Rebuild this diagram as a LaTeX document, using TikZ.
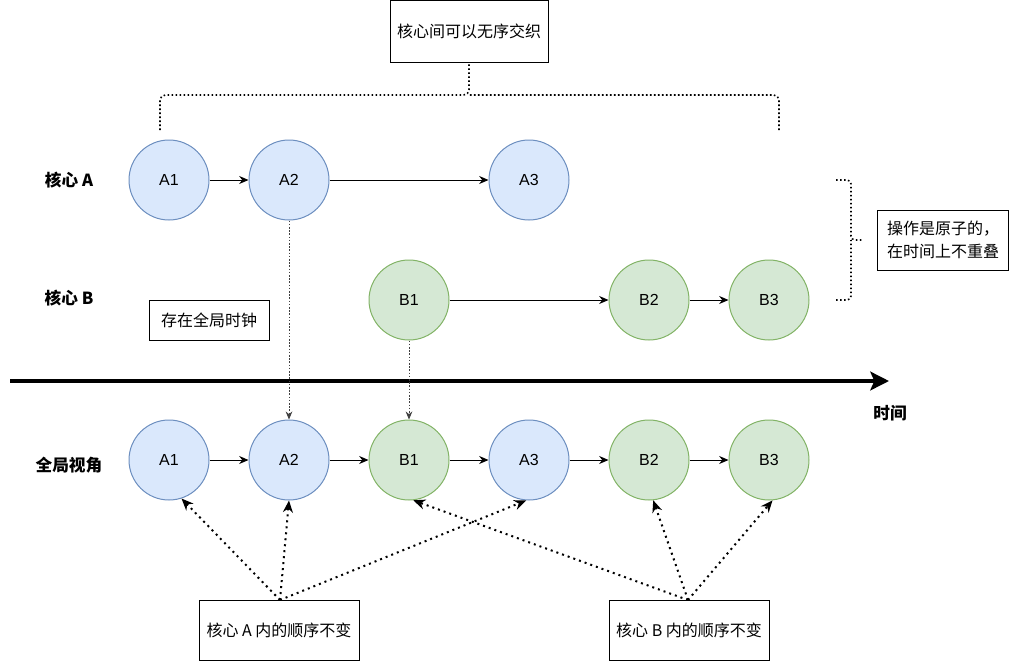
\documentclass[tikz,border=0pt]{standalone}
\usepackage{fontspec}
\setmainfont{Liberation Sans}
\newfontfamily\cjk{Noto Sans CJK SC}
\usetikzlibrary{arrows.meta}
\begin{document}
\begin{tikzpicture}[x=0.75pt,y=-0.75pt,
  every node/.style={font=\fontsize{12}{15}\selectfont},
  bcirc/.style={circle,draw=blue!40!gray,fill=blue!12,minimum size=60pt,inner sep=0pt,line width=0.75pt},
  gcirc/.style={circle,draw=green!50!gray,fill=green!12,minimum size=60pt,inner sep=0pt,line width=0.75pt},
  txtbox/.style={draw,line width=0.75pt,inner sep=0pt,font=\cjk\fontsize{12}{17}\selectfont,align=center},
  rowlbl/.style={font=\cjk\bfseries\fontsize{12.5}{15}\selectfont},
  seq/.style={-{Stealth[length=7pt,width=6pt]},line width=0.75pt},
  vdot/.style={-{Stealth[length=6pt,width=5pt]},line width=0.6pt,dash pattern=on 1.2pt off 1.2pt,draw=black!75},
  bdot/.style={-{Stealth[length=9pt,width=7.5pt]},line width=1.5pt,dash pattern=on 1.5pt off 3pt},
  brace/.style={line width=1.2pt,dash pattern=on 1.2pt off 1.8pt,rounded corners=4pt}
]
\definecolor{bfill}{HTML}{DAE8FC}\definecolor{bdraw}{HTML}{6C8EBF}
\definecolor{gfill}{HTML}{D5E8D4}\definecolor{gdraw}{HTML}{82B366}
\tikzset{bcirc/.append style={draw=bdraw,fill=bfill},gcirc/.append style={draw=gdraw,fill=gfill}}
\useasboundingbox (0,0) rectangle (1010,661);

% row labels
\node[rowlbl] (la) at (69,180) {核心 A};
\node[rowlbl] (lb) at (69,298) {核心 B};
\node[rowlbl] (lg) at (69,465) {全局视角};

% core A
\node[bcirc] (a1) at (169,180) {A1};
\node[bcirc] (a2) at (289,180) {A2};
\node[bcirc] (a3) at (529,180) {A3};
\draw[seq] (a1) -- (a2);
\draw[seq] (a2) -- (a3);

% core B
\node[gcirc] (b1) at (409,300) {B1};
\node[gcirc] (b2) at (649,300) {B2};
\node[gcirc] (b3) at (769,300) {B3};
\draw[seq] (b1) -- (b2);
\draw[seq] (b2) -- (b3);

% global clock box
\node[txtbox,minimum width=90pt,minimum height=30pt] (clk) at (209,320) {存在全局时钟};

% top box and brace
\node[txtbox,minimum width=118.5pt,minimum height=46.5pt] (tb) at (469,31) {核心间可以无序交织};
\coordinate (bl) at (160,130);
\coordinate (br) at (779,130);
\draw[brace] (bl) -- (160,95) -- (469,95) -- (tb.south);
\draw[brace] (br) -- (779,95) -- (469,95);

% right brace and box
\node[txtbox,minimum width=98pt,minimum height=45pt] (rb) at (943,240) {操作是原子的，\\在时间上不重叠};
\coordinate (rt) at (836,180);
\coordinate (rbm) at (836,300);
\draw[brace,rounded corners=3pt] (rt) -- (851,180) -- (851,240) -- (863,240);
\draw[brace,rounded corners=3pt] (rbm) -- (851,300) -- (851,240);

% timeline
\coordinate (t0) at (10,381);
\coordinate (t1) at (889,381);
\draw[line width=3pt,-{Stealth[length=14pt,width=14pt,inset=3pt]}] (t0) -- (t1);
\node[rowlbl] (tl) at (890,413) {时间};

% global row
\node[bcirc] (g1) at (169,460) {A1};
\node[bcirc] (g2) at (289,460) {A2};
\node[gcirc] (g3) at (409,460) {B1};
\node[bcirc] (g4) at (529,460) {A3};
\node[gcirc] (g5) at (649,460) {B2};
\node[gcirc] (g6) at (769,460) {B3};
\draw[seq] (g1) -- (g2);
\draw[seq] (g2) -- (g3);
\draw[seq] (g3) -- (g4);
\draw[seq] (g4) -- (g5);
\draw[seq] (g5) -- (g6);

% projection lines
\draw[vdot] (a2.south) -- (g2.north);
\draw[vdot] (b1.south) -- (g3.north);

% bottom boxes
\node[txtbox,minimum width=120pt,minimum height=45pt] (qa) at (279,630) {核心 A 内的顺序不变};
\node[txtbox,minimum width=120pt,minimum height=45pt] (qb) at (689,630) {核心 B 内的顺序不变};
\coordinate (qat) at (280,600);
\coordinate (qbt) at (688,600);
\draw[bdot] (qat) -- (g1.-72);
\draw[bdot] (qat) -- (g2.south);
\draw[bdot] (qat) -- (g4.-94);
\draw[bdot] (qbt) -- (g3.-84);
\draw[bdot] (qbt) -- (g5.-84);
\draw[bdot] (qbt) -- (g6.-85);
\end{tikzpicture}
\end{document}
